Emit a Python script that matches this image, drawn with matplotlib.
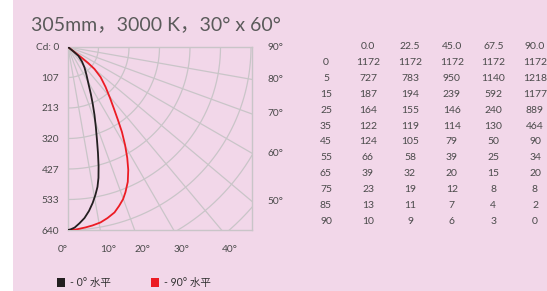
import numpy as np
import matplotlib
matplotlib.use("Agg")
import matplotlib.pyplot as plt
from matplotlib.patches import Rectangle

plt.rcParams['font.family'] = ['Lato', 'Noto Sans CJK SC', 'DejaVu Sans']

# ---------------- data ----------------
title = "305mm，3000 K，30° x 60°"
radial_ticks = [0, 107, 213, 320, 427, 533, 640]
radial_labels = ["Cd: 0", "107", "213", "320", "427", "533", "640"]
bottom_angles = [0, 10, 20, 30, 40]
right_angles = [90, 80, 70, 60, 50]
grid_angles = [10, 20, 30, 40, 50, 60, 70, 80]

# curve: C0 plane (black) - gamma angle (deg), intensity (cd)
c0_angle = [51, 50.7, 49.4, 44.0, 38.8, 33.5, 29.0, 25.9, 23.5, 21.3, 19.2, 17.3,
            15.8, 14.4, 13.1, 11.9, 10.5, 9.0, 7.3, 5.5, 3.7, 2.1, 0.8, 0]
c0_cd = [0, 25, 48, 70, 92, 117, 148, 183, 217, 255, 296, 341,
         385, 430, 470, 500, 526, 552, 578, 601, 618, 632, 638, 640]
# curve: C90 plane (red)
c90_angle = [52.5, 52.3, 52.0, 51.5, 50.3, 47.3, 43.2, 39.5, 36.6, 34.4, 32.4, 30.2,
             28.1, 26.1, 23.9, 21.6, 19.9, 17.8, 15.7, 13.0, 10.5, 7.8, 5.5, 2.4, 0]
c90_cd = [0, 30, 60, 90, 120, 155, 192, 231, 270, 309, 352, 397,
          440, 479, 516, 546, 566, 584, 601, 614, 624, 630, 634, 639, 640]

# table
table_cols = ["0.0", "22.5", "45.0", "67.5", "90.0"]
table_rows = ["0", "5", "15", "25", "35", "45", "55", "65", "75", "85", "90"]
col_00 = [1172, 727, 187, 164, 122, 124, 66, 39, 23, 13, 10]
col_225 = [1172, 783, 194, 155, 119, 105, 58, 32, 19, 11, 9]
col_450 = [1172, 950, 239, 146, 114, 79, 39, 20, 12, 7, 6]
col_675 = [1172, 1140, 592, 240, 130, 50, 25, 15, 8, 4, 3]
col_900 = [1172, 1218, 1177, 889, 464, 90, 34, 20, 8, 2, 0]
table_values = [col_00, col_225, col_450, col_675, col_900]

legend_items = [("- 0° 水平", "#231f20"), ("- 90° 水平", "#ec1c24")]

# ---------------- style ----------------
W, H = 547, 291
BG = "#f2d7e9"
GRID = "#c9c5c8"
TXT = "#4a4a4a"

fig = plt.figure(figsize=(W / 100, H / 100), dpi=100, facecolor=BG)
fig.patches.append(Rectangle((0, 0), 13 / W, 1, transform=fig.transFigure,
                             facecolor="white", edgecolor="none", zorder=-1))

def px(x, y):
    return x / W, 1 - y / H

# polar box
L, R, T, B = 68, 252, 47, 230
ax = fig.add_axes([L / W, 1 - B / H, (R - L) / W, (B - T) / H])
ax.set_facecolor(BG)
rmax = radial_ticks[-1]
xmax = rmax * (R - L) / (B - T)
ax.set_xlim(0, xmax)
ax.set_ylim(rmax, 0)
for s in ax.spines.values():
    s.set_color(GRID)
    s.set_linewidth(1.0)

# grid arcs
th = np.radians(np.linspace(0, 90, 200))
for k in range(1, 9):
    r = k * rmax / 6
    ax.plot(r * np.sin(th), r * np.cos(th), color=GRID, lw=0.9, zorder=1)
# radial lines
far = 3000
for a in grid_angles:
    t = np.radians(a)
    ax.plot([0, far * np.sin(t)], [0, far * np.cos(t)], color=GRID, lw=0.9, zorder=1)

# curves
def polar_xy(ang, cd):
    t = np.radians(np.asarray(ang, float))
    r = np.asarray(cd, float)
    return r * np.sin(t), r * np.cos(t)

x90, y90 = polar_xy(c90_angle, c90_cd)
ax.plot(x90, y90, color=legend_items[1][1], lw=1.3, zorder=3,
        solid_joinstyle='round', solid_capstyle='round')
x0, y0 = polar_xy(c0_angle, c0_cd)
ax.plot(x0, y0, color=legend_items[0][1], lw=1.3, zorder=4,
        solid_joinstyle='round', solid_capstyle='round')

# radial tick labels (left)
ax.set_yticks(radial_ticks)
ax.set_yticklabels(radial_labels)
ax.tick_params(axis='y', length=0, pad=6.5, labelsize=7.3, labelcolor=TXT)

# bottom angle labels
bx = [rmax * np.tan(np.radians(a)) for a in bottom_angles]
ax.set_xticks(bx)
ax.set_xticklabels([f"{a}°" for a in bottom_angles])
ax.tick_params(axis='x', length=0, pad=11, labelsize=7.3, labelcolor=TXT)
for i, lab in enumerate(ax.get_xticklabels()):
    lab.set_ha('right' if i == 0 else 'left')

# right angle labels
for a in right_angles:
    yv = 0 if a == 90 else xmax / np.tan(np.radians(a))
    ax.annotate(f"{a}°", xy=(1, yv), xycoords=('axes fraction', 'data'),
                xytext=(11, 0), textcoords='offset points', ha='left', va='center',
                fontsize=7.3, color=TXT, annotation_clip=False)

# title
fig.text(*px(31, 30.5), title, fontsize=14, color="#5a5a5a", ha='left', va='baseline')

# table
col_x = [368, 410, 451.7, 493.3, 535]
row_x = 326
hdr_y = 46.7
row_y0, row_dy = 62.3, 15.94
for cx, c in zip(col_x, table_cols):
    fig.text(*px(cx, hdr_y), c, fontsize=7.5, color=TXT, ha='center', va='center')
for i, rl in enumerate(table_rows):
    y = row_y0 + i * row_dy
    fig.text(*px(row_x, y), rl, fontsize=7.5, color=TXT, ha='center', va='center')
    for cx, col in zip(col_x, table_values):
        fig.text(*px(cx, y), str(col[i]), fontsize=7.5, color=TXT, ha='center', va='center')

# legend
leg_x = [57, 151]
for (label, color), lx in zip(legend_items, leg_x):
    fig.patches.append(Rectangle(px(lx, 287), 8 / W, 9 / H, transform=fig.transFigure,
                                 facecolor=color, edgecolor='none'))
    fig.text(*px(lx + 13, 282.5), label, fontsize=7.6, color="#333333",
             ha='left', va='center')

fig.savefig("out.png", dpi=100, facecolor=BG)
